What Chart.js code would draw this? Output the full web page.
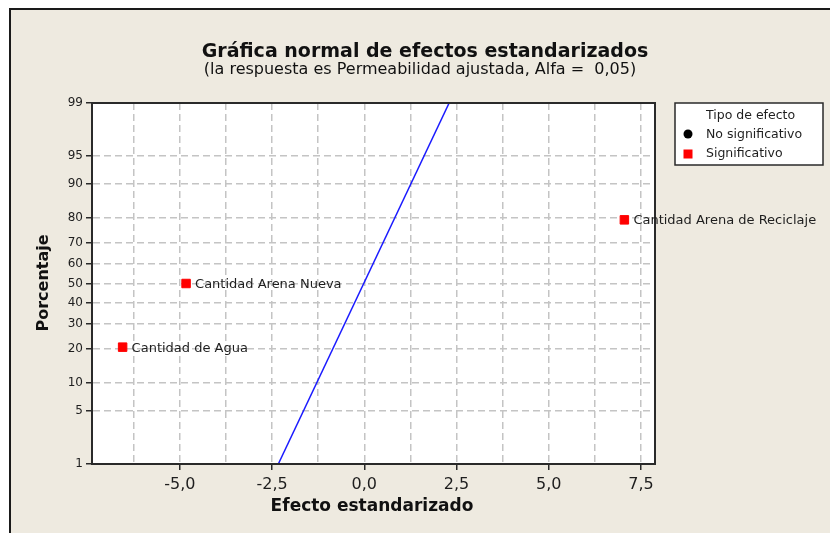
<!DOCTYPE html>
<html>
<head>
<meta charset="utf-8">
<title>Gráfica normal de efectos estandarizados</title>
<script src="https://cdn.jsdelivr.net/npm/chart.js@4.4.0/dist/chart.umd.min.js"></script>
<style>
    body { margin: 0; background: #ffffff; }
    #wrap { width: 830px; height: 533px; }
</style>
</head>
<body>
<div id="wrap"><canvas id="effectsChart" width="830" height="533"></canvas></div>
<script>
// Effects (standardized) and their normal plotting positions (%)
const effectNames = ['Cantidad de Agua', 'Cantidad Arena Nueva', 'Cantidad Arena de Reciclaje'];
const effectValues = [-6.55, -4.83, 7.05];
const effectPercents = [20.6, 50, 79.4];

// Fitted reference line (ends of the line)
const fitLineX = [-2.33, 2.30];
const fitLinePct = [1, 99];

// Axis ticks
const yTickPercents = [1, 5, 10, 20, 30, 40, 50, 60, 70, 80, 90, 95, 99];
const yTickLabels = ['1', '5', '10', '20', '30', '40', '50', '60', '70', '80', '90', '95', '99'];
const xGridValues = [-6.25, -5, -3.75, -2.5, -1.25, 0, 1.25, 2.5, 3.75, 5, 6.25, 7.5];
const xTickValues = [-5, -2.5, 0, 2.5, 5, 7.5];
const xTickLabels = ['-5,0', '-2,5', '0,0', '2,5', '5,0', '7,5'];

const textColor = '#1e1e1e';
const frameColor = '#2a2a2a';
const gridColor = '#c4c4c4';

// Helper: inverse standard normal CDF (Acklam), used for the probability axis
function probit(p) {
    const a = [-39.69683028665376, 220.9460984245205, -275.9285104469687, 138.357751867269, -30.66479806614716, 2.506628277459239];
    const b = [-54.47609879822406, 161.5858368580409, -155.6989798598866, 66.80131188771972, -13.28068155288572];
    const c = [-0.007784894002430293, -0.3223964580411365, -2.400758277161838, -2.549732539343734, 4.374664141464968, 2.938163982698783];
    const d = [0.007784695709041462, 0.3224671290700398, 2.445134137142996, 3.754408661907416];
    const pl = 0.02425;
    let q, r;
    if (p < pl) {
        q = Math.sqrt(-2 * Math.log(p));
        return (((((c[0]*q+c[1])*q+c[2])*q+c[3])*q+c[4])*q+c[5]) / ((((d[0]*q+d[1])*q+d[2])*q+d[3])*q+1);
    }
    if (p > 1 - pl) {
        q = Math.sqrt(-2 * Math.log(1 - p));
        return -(((((c[0]*q+c[1])*q+c[2])*q+c[3])*q+c[4])*q+c[5]) / ((((d[0]*q+d[1])*q+d[2])*q+d[3])*q+1);
    }
    q = p - 0.5;
    r = q * q;
    return (((((a[0]*r+a[1])*r+a[2])*r+a[3])*r+a[4])*r+a[5])*q / (((((b[0]*r+b[1])*r+b[2])*r+b[3])*r+b[4])*r+1);
}

const pointData = effectValues.map((v, i) => ({ x: v, y: probit(effectPercents[i] / 100) }));
const lineData = fitLineX.map((v, i) => ({ x: v, y: probit(fitLinePct[i] / 100) }));

// Page background, frame, titles, point labels and legend
const decorPlugin = {
    id: 'decor',
    beforeDraw(chart) {
        const c = chart.ctx;
        c.save();
        c.fillStyle = '#ffffff';
        c.fillRect(0, 0, chart.width, chart.height);
        c.fillStyle = '#eeeae0';
        c.fillRect(9, 8, chart.width, chart.height);
        c.strokeStyle = '#1a1a1a';
        c.lineWidth = 2;
        c.beginPath();
        c.moveTo(10, chart.height);
        c.lineTo(10, 9);
        c.lineTo(chart.width, 9);
        c.stroke();
        const a = chart.chartArea;
        c.fillStyle = '#ffffff';
        c.fillRect(a.left, a.top, a.right - a.left, a.bottom - a.top);
        c.restore();
    },
    afterDraw(chart) {
        const c = chart.ctx;
        const a = chart.chartArea;
        c.save();
        // plot frame
        c.strokeStyle = frameColor;
        c.lineWidth = 2;
        c.strokeRect(a.left, a.top, a.right - a.left, a.bottom - a.top);

        // titles
        c.fillStyle = '#111111';
        c.textAlign = 'center';
        c.textBaseline = 'alphabetic';
        c.font = 'bold 19px "DejaVu Sans"';
        c.fillText('Gráfica normal de efectos estandarizados', 425, 57);
        c.font = '16px "DejaVu Sans"';
        c.fillText('(la respuesta es Permeabilidad ajustada, Alfa =  0,05)', 420, 74);

        // axis titles
        c.textBaseline = 'middle';
        c.font = 'bold 17px "DejaVu Sans"';
        c.fillText('Efecto estandarizado', 372, 507);
        c.font = 'bold 16px "DejaVu Sans"';
        c.save();
        c.translate(44, 283);
        c.rotate(-Math.PI / 2);
        c.fillText('Porcentaje', 0, 0);
        c.restore();

        // point labels
        const meta = chart.getDatasetMeta(1);
        c.font = '13px "DejaVu Sans"';
        c.textAlign = 'left';
        c.fillStyle = textColor;
        meta.data.forEach((pt, i) => {
            c.fillText(effectNames[i], pt.x + 9, pt.y + 1);
        });

        // legend box
        c.fillStyle = '#ffffff';
        c.fillRect(675, 103, 148, 62);
        c.strokeStyle = frameColor;
        c.lineWidth = 1.5;
        c.strokeRect(675, 103, 148, 62);
        c.font = '12.5px "DejaVu Sans"';
        c.fillStyle = textColor;
        c.fillText('Tipo de efecto', 706, 116);
        c.fillText('No significativo', 706, 135);
        c.fillText('Significativo', 706, 154);
        c.fillStyle = '#000000';
        c.beginPath();
        c.arc(688, 134, 4.5, 0, Math.PI * 2);
        c.fill();
        c.fillStyle = '#ff0000';
        c.fillRect(683.5, 149.5, 9, 9);
        c.restore();
    }
};

const ctx = document.getElementById('effectsChart').getContext('2d');
new Chart(ctx, {
    type: 'scatter',
    data: {
        datasets: [{
            label: 'Ajuste',
            data: lineData,
            showLine: true,
            borderColor: '#1a1aff',
            borderWidth: 1.5,
            pointRadius: 0,
            fill: false
        }, {
            label: 'Significativo',
            data: pointData,
            pointStyle: 'rect',
            pointRadius: 6,
            backgroundColor: '#ff0000',
            borderColor: '#ff0000',
            borderWidth: 1
        }]
    },
    options: {
        responsive: false,
        animation: false,
        layout: { padding: { left: 0, right: 175, top: 103, bottom: 0 } },
        plugins: {
            legend: { display: false },
            tooltip: { enabled: false }
        },
        scales: {
            x: {
                type: 'linear',
                min: -7.38,
                max: 7.88,
                afterFit: scale => { scale.height = 69; },
                afterBuildTicks: scale => {
                    scale.ticks = xGridValues.map(v => ({ value: v }));
                },
                grid: {
                    color: gridColor,
                    lineWidth: 1.5,
                    tickLength: 6,
                    tickWidth: 1.5,
                    tickColor: c => (c.tick && xTickValues.includes(c.tick.value)) ? frameColor : 'rgba(0,0,0,0)'
                },
                border: { display: true, color: frameColor, width: 2, dash: [7, 4] },
                ticks: {
                    autoSkip: false,
                    maxRotation: 0,
                    padding: 5,
                    color: textColor,
                    font: { family: 'DejaVu Sans', size: 16 },
                    callback: function(value) {
                        const i = xTickValues.indexOf(value);
                        return i >= 0 ? xTickLabels[i] : '';
                    }
                }
            },
            y: {
                type: 'linear',
                min: probit(0.01),
                max: probit(0.99),
                afterFit: scale => { scale.width = 92; },
                afterBuildTicks: scale => {
                    scale.ticks = yTickPercents.map(p => ({ value: probit(p / 100) }));
                },
                grid: {
                    color: gridColor,
                    lineWidth: 1.5,
                    tickLength: 6,
                    tickWidth: 1.5,
                    tickColor: frameColor
                },
                border: { display: true, color: frameColor, width: 2, dash: [7, 4] },
                ticks: {
                    autoSkip: false,
                    padding: 3,
                    color: textColor,
                    font: { family: 'DejaVu Sans', size: 12 },
                    callback: function(value, index) {
                        return yTickLabels[index];
                    }
                }
            }
        }
    },
    plugins: [decorPlugin]
});
</script>
</body>
</html>
